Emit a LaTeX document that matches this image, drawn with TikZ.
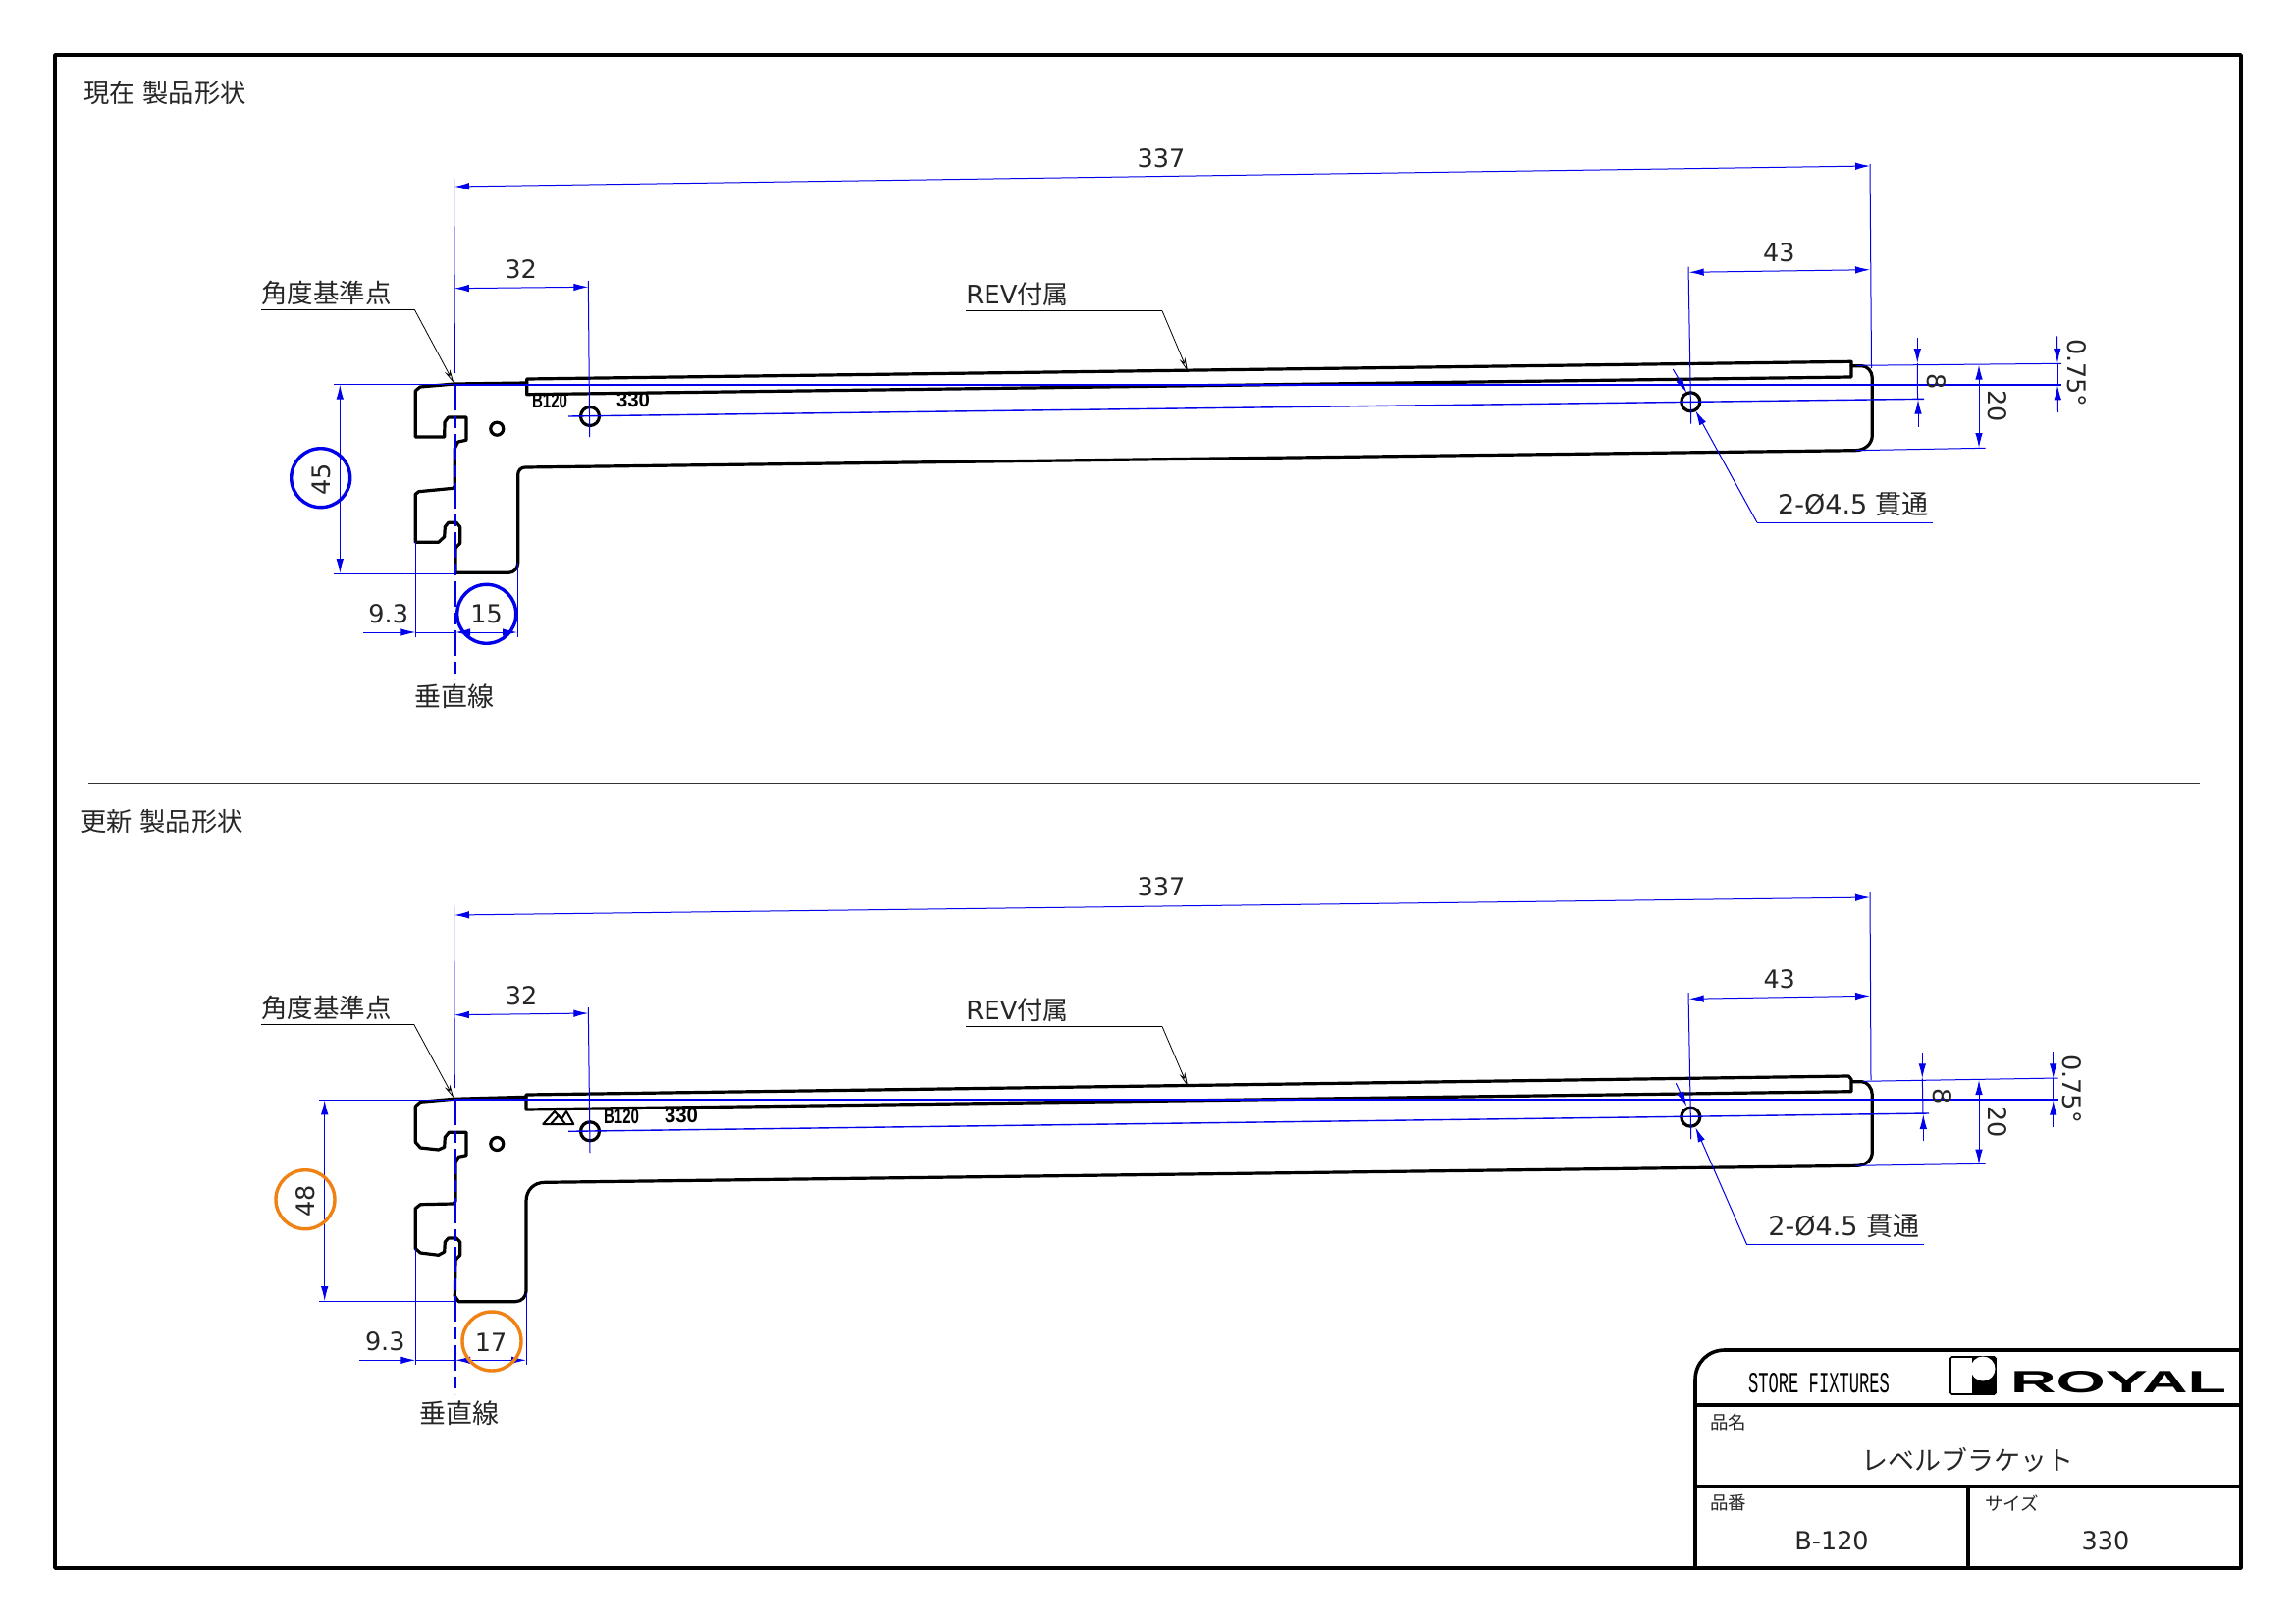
\documentclass[tikz,border=0pt]{standalone}
\usepackage{fontspec}
\setmainfont{DejaVu Sans}
\newfontfamily\jp{Noto Sans CJK JP}
\newfontfamily\narrowf{Liberation Mono}
\newfontfamily\boldf{Liberation Sans}[BoldFont={Liberation Sans Bold}]
\usetikzlibrary{arrows.meta}
\definecolor{dimblue}{RGB}{0,0,235}
\definecolor{markorange}{RGB}{240,130,20}
\tikzset{
  dimline/.style={draw=dimblue,line width=1pt},
  dimarrow/.style={dimline,-{Latex[length=15pt,width=7.5pt]}},
  dimboth/.style={dimline,{Latex[length=15pt,width=7.5pt]}-{Latex[length=15pt,width=7.5pt]}},
  datum/.style={draw=dimblue,line width=2pt},
  centerline/.style={draw=dimblue,line width=1.8pt,dash pattern=on 26pt off 6pt on 12pt off 6pt},
  leader/.style={draw=black,line width=.8pt},
  leadarrow/.style={leader,-{Stealth[length=14pt,width=6pt,open]}},
  part/.style={draw=black,line width=3.2pt,line join=round,line cap=round},
  frameline/.style={draw=black,line width=3.6pt,line join=round},
  txt/.style={inner sep=0pt,font=\fontsize{25.5}{26}\selectfont,text=black!85},
  holetxt/.style={inner sep=0pt,font=\fontsize{27}{27}\selectfont,text=black!85},
  jptxt/.style={inner sep=0pt,font=\jp\fontsize{26.5}{27}\selectfont,text=black!85},
  headtxt/.style={inner sep=0pt,anchor=west,font=\jp\fontsize{26.3}{27}\selectfont,text=black!85},
  small/.style={inner sep=0pt,anchor=west,font=\jp\fontsize{18.5}{19}\selectfont,text=black!85},
  stamp/.style={inner sep=0pt,text=black},
  bluecirc/.style={draw=dimblue,line width=3.4pt},
  orangecirc/.style={draw=markorange,line width=3.4pt},
}
\newcommand{\stampt}[2]{\resizebox{#1pt}{15pt}{\boldf\bfseries #2}}
\begin{document}
\begin{tikzpicture}[x=1pt,y=-1pt]
\useasboundingbox (0,0) rectangle (2339,1653);
\fill[white] (0,0) rectangle (2339,1653);

% ---- frame
\draw[frameline] (56,56) rectangle (2283,1597);
\draw[line width=.8pt,black!80] (89.6,797.5) -- (2241,797.5);
\node[headtxt] (headA) at (85,94.5) {現在\hspace{.3em}製品形状};
\node[headtxt] (headB) at (82,837) {更新\hspace{.3em}製品形状};

% ==== TOP VIEW
\draw[part] (463.3,391) -- (428,394) -- (423.3,398) -- (423.3,445) -- (452.7,445) -- (453,430) -- (456.7,425) -- (475,425) -- (475,448.3) -- (466.7,450) -- (463.3,456.7) -- (463.3,495) -- (461.7,497.3) -- (426.7,500.7) -- (423.3,503.3) -- (423.3,552.3) -- (446.7,552.3) -- (452.7,546.7) -- (453.3,536.7) -- (456.7,532.3) -- (465,532.3) -- (468.7,536.7) -- (468.7,553.3) -- (464,558.3) -- (464,583.3) -- (518.3,583.3) .. controls (524,583.3) and (527.7,578) .. (527.7,573.3) -- (527.7,483.3) .. controls (527.7,479) and (531,476) .. (535,476) -- (1890,458.7) .. controls (1900,458.7) and (1907.3,452) .. (1907.3,443.3) -- (1907.3,385) .. controls (1907.3,378) and (1902,372.7) .. (1896.7,372.7) -- (1886,372.7);
\draw[part] (463.3,391) -- (536.7,390);
\draw[part] (536.7,386) -- (1886,368.3) -- (1886,384) -- (536.7,401.7) -- cycle;
\draw[part] (601,424) circle (9.5);
\draw[part] (1722.3,409.3) circle (9.5);
\draw[part] (506.3,436.7) circle (6.5);
\node[stamp] (stA1) at (560,408.3) {\stampt{36}{B120}};
\node[stamp] (stA2) at (645,407.3) {\stampt{34}{330}};

% blue dims, top
\draw[dimline] (462.5,182) -- (463.5,380);
\draw[dimline] (1905,167) -- (1906.5,375);
\draw[dimboth] (463,190) -- (1905,169);
\node[txt] (d337a) at (1183,161) {337};
\draw[dimline] (599.3,286) -- (600.7,445);
\draw[dimboth] (462.8,293.7) -- (599.3,292.3);
\node[txt] (d32a) at (530.7,274) {32};
\draw[dimline] (1720,271.7) -- (1722.7,431.7);
\draw[dimboth] (1720.7,277.3) -- (1905,274.7);
\node[txt] (d43a) at (1812.3,257.3) {43};
\draw[datum] (463.3,391.7) -- (2100,391.7);
\draw[dimline] (340,391.7) -- (463,391.7);
\draw[dimline,line width=1.4pt] (579,424) -- (1960,406.3);
\draw[centerline] (464,392) -- (464,692);
% 8
\draw[dimarrow] (1953.3,344.3) -- (1953.3,370);
\draw[dimline] (1953.3,370) -- (1953.5,406);
\draw[dimarrow] (1954,435) -- (1954,406.7);
\node[txt,rotate=-90] (d8a) at (1972.7,389) {8};
% 20
\draw[dimline] (1891.7,372.3) -- (2100,370.3);
\draw[dimline] (1890,458.7) -- (2022.7,456.3);
\draw[dimboth] (2016,371.7) -- (2016,456);
\node[txt,rotate=-90] (d20a) at (2035,413.3) {20};
% 0.75
\draw[dimarrow] (2095.5,342.3) -- (2096,370);
\draw[dimline] (2096,370) -- (2096,392.3);
\draw[dimarrow] (2096.5,420) -- (2096,392.3);
\node[txt,rotate=-90] (d075a) at (2116,380) {0.75°};
% leader hole
\draw[dimline] (1969,532.3) -- (1790,532.3);
\draw[dimarrow] (1790,532.3) -- (1727.3,418.3);
\draw[dimarrow] (1704.3,376) -- (1718.3,400);
\node[holetxt] (holeA) at (1888,513.3) {2-Ø4.5 {\jp 貫通}};
% leaders black
\node[jptxt] (angA) at (332.5,298.3) {角度基準点};
\draw[leader] (266,315.3) -- (422.3,315.3);
\draw[leadarrow] (422.3,315.3) -- (462.3,390);
\node[txt,font=\fontsize{26}{26}\selectfont] (revA) at (1036.5,300) {REV{\jp 付属}};
\draw[leader] (984,316.6) -- (1184,316.6);
\draw[leadarrow] (1184,316.6) -- (1210,378);
% 45
\draw[dimline] (340,584) -- (463,584);
\draw[dimboth] (346.3,391.7) -- (346.3,584);
\draw[bluecirc] (326.7,486.7) circle (30);
\node[txt,rotate=90] (d45) at (327.3,488) {45};
% 9.3 / 15
\draw[dimline] (423.3,552) -- (423.3,649.3);
\draw[dimline] (527.3,573.3) -- (527.3,649.3);
\draw[dimarrow] (370,644) -- (423.3,644);
\draw[dimboth] (464,644) -- (527,644);
\draw[dimline] (423.3,644) -- (464,644);
\draw[bluecirc] (495.7,625.3) circle (30);
\node[txt] (d93a) at (395.7,625) {9.3};
\node[txt] (d15) at (495.7,625.7) {15};
\node[jptxt,font=\jp\fontsize{27}{27}\selectfont] (vertA) at (463.3,709.3) {垂直線};

% ==== BOTTOM VIEW
\draw[part] (462.3,1119.3) -- (428.3,1122.3) -- (423.3,1126.7) -- (423.3,1163.3) -- (428.3,1169) -- (446.7,1171) -- (452.7,1168.3) -- (453.3,1158.3) -- (457.3,1153.3) -- (475,1153.3) -- (475,1176.7) -- (467.3,1178.3) -- (464,1183.3) -- (464,1223.3) -- (461.7,1226) -- (428.3,1226.7) -- (423.3,1230.7) -- (423.3,1271.7) -- (428.3,1276) -- (446.7,1278.3) -- (452.7,1275) -- (453.3,1265) -- (456.7,1261) -- (465,1261) -- (468.7,1265) -- (468.7,1278.3) -- (464,1283.3) -- (463.3,1320) -- (467.3,1325.7) -- (525,1325.7) .. controls (532,1325.7) and (536,1320) .. (536,1315) -- (536,1223.3) .. controls (536,1212) and (544,1204.3) .. (555,1204.3) -- (1891.7,1187.3) .. controls (1901,1187) and (1907.3,1181) .. (1907.3,1173.3) -- (1907.3,1115) .. controls (1907.3,1108) and (1902,1101.7) .. (1896.7,1101.7) -- (1886.7,1101.7);
\draw[part] (462.3,1119.3) -- (536,1117.3);
\draw[part] (536,1115) -- (1883.3,1096) -- (1886,1099.3) -- (1886,1111.7) -- (536,1130) -- cycle;
\draw[part] (601,1152.3) circle (9.5);
\draw[part] (1722.3,1137.7) circle (9.5);
\draw[part] (506.3,1165) circle (6.5);
\draw[draw=black,line width=2pt,line join=round] (553.3,1145) -- (565,1132) -- (572,1140) -- (577,1132) -- (584.3,1145) -- cycle (561,1145) -- (569,1136) -- (576,1145);
\node[stamp] (stB1) at (633,1136.7) {\stampt{36}{B120}};
\node[stamp] (stB2) at (694,1135.7) {\stampt{34}{330}};

\draw[dimline] (462.5,923) -- (463.3,1108);
\draw[dimline] (1905,908) -- (1906,1100);
\draw[dimboth] (463,932) -- (1905,914);
\node[txt] (d337b) at (1183,903.6) {337};
\draw[dimline] (599.3,1026) -- (601,1174);
\draw[dimboth] (462.8,1033.7) -- (599.3,1032);
\node[txt] (d32b) at (531,1014) {32};
\draw[dimline] (1720,1011) -- (1722.7,1160);
\draw[dimboth] (1720.7,1017.3) -- (1905,1014.3);
\node[txt] (d43b) at (1812.7,997.3) {43};
\draw[datum] (463.3,1120) -- (2096.7,1120);
\draw[dimline] (325,1120.3) -- (463,1120.3);
\draw[dimline,line width=1.4pt] (579,1152.3) -- (1965,1134);
\draw[centerline] (464,1120) -- (464,1420);
% 8
\draw[dimarrow] (1958.3,1072.3) -- (1958.3,1098.3);
\draw[dimline] (1958.3,1098.3) -- (1959,1135);
\draw[dimarrow] (1959.3,1162.3) -- (1959.3,1135);
\node[txt,rotate=-90] (d8b) at (1978.3,1116.7) {8};
% 20
\draw[dimline] (1898,1101.3) -- (2096.7,1098);
\draw[dimline] (1890,1187.3) -- (2022.7,1185.3);
\draw[dimboth] (2016,1100) -- (2016,1185.7);
\node[txt,rotate=-90] (d20b) at (2035,1142.7) {20};
% 0.75
\draw[dimarrow] (2091.7,1071) -- (2091.7,1098.3);
\draw[dimline] (2091.7,1098.3) -- (2091.7,1120.7);
\draw[dimarrow] (2091.7,1147.7) -- (2091.7,1120.7);
\node[txt,rotate=-90] (d075b) at (2111,1109) {0.75°};
% leader hole
\draw[dimline] (1960,1267) -- (1779.3,1267);
\draw[dimarrow] (1779.3,1267) -- (1727.3,1148.3);
\draw[dimarrow] (1707.3,1103.3) -- (1718.3,1126.7);
\node[holetxt] (holeB) at (1878.3,1248.3) {2-Ø4.5 {\jp 貫通}};
\node[jptxt] (angB) at (332.5,1026) {角度基準点};
\draw[leader] (266,1043.3) -- (421.7,1043.3);
\draw[leadarrow] (421.7,1043.3) -- (462.3,1118.3);
\node[txt,font=\fontsize{26}{26}\selectfont] (revB) at (1036.5,1029) {REV{\jp 付属}};
\draw[leader] (984,1045.5) -- (1184,1045.5);
\draw[leadarrow] (1184,1045.5) -- (1210,1106);
% 48
\draw[dimline] (325,1325) -- (463.3,1325);
\draw[dimboth] (330.7,1120.3) -- (330.7,1325);
\draw[orangecirc] (311,1221.7) circle (30);
\node[txt,rotate=90] (d48) at (311.7,1223.3) {48};
% 9.3 / 17
\draw[dimline] (423.3,1271.7) -- (423.3,1390);
\draw[dimline] (536,1316.7) -- (536,1390);
\draw[dimarrow] (366,1385.3) -- (423.3,1385.3);
\draw[dimboth] (464,1385.3) -- (536,1385.3);
\draw[dimline] (423.3,1385.3) -- (464,1385.3);
\draw[orangecirc] (501,1366) circle (30);
\node[txt] (d93b) at (392.3,1366.7) {9.3};
\node[txt] (d17) at (500,1366.7) {17};
\node[jptxt,font=\jp\fontsize{27}{27}\selectfont] (vertB) at (467.7,1439) {垂直線};

% ==== TITLE BLOCK
\fill[white] (1727,1597) -- (1727,1405) .. controls (1727,1388) and (1740,1375) .. (1757,1375) -- (2283,1375) -- (2283,1597) -- cycle;
\draw[frameline] (1727,1597) -- (1727,1405) .. controls (1727,1388) and (1740,1375) .. (1757,1375) -- (2283,1375) -- (2283,1597) -- cycle;
\draw[frameline] (1727,1431) -- (2283,1431);
\draw[frameline] (1727,1514) -- (2283,1514);
\draw[frameline] (2005,1514) -- (2005,1597);
\node[inner sep=0pt] (store) at (1853,1409) {\resizebox{144pt}{20pt}{\narrowf STORE FIXTURES}};
\draw[black,line width=1.6pt,rounded corners=1.5pt] (1987,1382) rectangle (2033,1420);
\fill[black] (2009,1382) rectangle (2033,1420);
\fill[white] (2020,1394) circle (12.5);
\node[inner sep=0pt] (royal) at (2158,1408) {\resizebox{220pt}{22pt}{\boldf\bfseries ROYAL}};
\node[small] (lblName) at (1742,1448) {品名};
\node[jptxt,font=\jp\fontsize{27}{28}\selectfont] (prodName) at (2004,1487) {レベルブラケット};
\node[small] (lblNo) at (1742,1531) {品番};
\node[small] (lblSize) at (2022,1531) {サイズ};
\node[txt] (prodNo) at (1866,1569) {B-120};
\node[txt] (prodSize) at (2145,1569) {330};
\end{tikzpicture}
\end{document}
